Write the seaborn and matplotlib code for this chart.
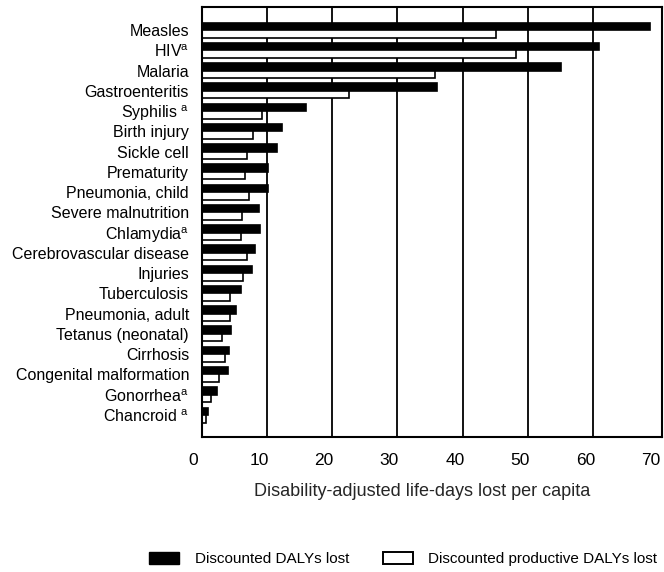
import pandas as pd
import seaborn as sns
import matplotlib.pyplot as plt
import matplotlib.transforms as mtransforms
from matplotlib.patches import Patch

# disability-adjusted life-days lost per capita

causes = ['Measles', 'HIV$^{a}$', 'Malaria', 'Gastroenteritis', 'Syphilis $^{a}$',
          'Birth injury', 'Sickle cell', 'Prematurity', 'Pneumonia, child',
          'Severe malnutrition', 'Chlamydia$^{a}$', 'Cerebrovascular disease',
          'Injuries', 'Tuberculosis', 'Pneumonia, adult', 'Tetanus (neonatal)',
          'Cirrhosis', 'Congenital malformation', 'Gonorrhea$^{a}$', 'Chancroid $^{a}$']

dalys = [68.7, 60.8, 55.0, 36.0, 16.0, 12.3, 11.5, 10.2, 10.2,
         8.8, 8.9, 8.2, 7.7, 6.0, 5.3, 4.5, 4.2, 4.0, 2.3, 1.0]
productive = [45.1, 48.2, 35.7, 22.6, 9.2, 7.9, 6.9, 6.7, 7.3,
              6.2, 6.0, 7.0, 6.4, 4.4, 4.4, 3.1, 3.6, 2.7, 1.4, 0.7]

series_names = ['Discounted DALYs lost', 'Discounted productive DALYs lost']

df = pd.DataFrame({
    'cause': causes * 2,
    'value': dalys + productive,
    'series': [series_names[0]] * len(causes) + [series_names[1]] * len(causes),
})

sns.set_style('white')
plt.rcParams['font.family'] = ['Liberation Sans', 'DejaVu Sans']
plt.rcParams['mathtext.default'] = 'regular'
plt.rcParams['text.color'] = 'black'
plt.rcParams['xtick.color'] = 'black'
plt.rcParams['ytick.color'] = 'black'

fig = plt.figure(figsize=(6.64, 5.72), dpi=100)
ax = fig.add_axes([0.3035, 0.2355, 0.6935, 0.7517])

sns.barplot(data=df, x='value', y='cause', hue='series', order=causes,
            palette=['black', 'white'], edgecolor='black', linewidth=1.2,
            width=0.74, ax=ax, legend=False)

ax.set_xlim(0, 70.5)
ax.set_ylim(len(causes) - 1 + 1.1, -1.12)
ax.set_xticks(range(0, 80, 10))
for xv in range(10, 70, 10):
    ax.axvline(xv, color='black', lw=1.3, zorder=0)
for s in ax.spines.values():
    s.set_color('black')
    s.set_linewidth(1.5)

ax.tick_params(axis='y', length=0, pad=9, labelsize=11.5)
ax.tick_params(axis='x', length=0, pad=11, labelsize=12.5)
# the printed tick numbers sit a little left of the grid lines
shift = mtransforms.ScaledTranslation(-8 / 100, 0, fig.dpi_scale_trans)
for lbl in ax.get_xticklabels():
    lbl.set_transform(lbl.get_transform() + shift)

ax.set_ylabel('')
ax.set_xlabel('Disability-adjusted life-days lost per capita', fontsize=13)
ax.xaxis.set_label_coords(0.479, -0.107)

handles = [Patch(facecolor='black', edgecolor='black'),
           Patch(facecolor='white', edgecolor='black', linewidth=1.4)]
fig.legend(handles, series_names, loc='center', bbox_to_anchor=(0.607, 0.022),
           ncol=2, frameon=False, fontsize=11, handlelength=2.0, handleheight=0.8,
           columnspacing=2.2, handletextpad=1.0)

fig.savefig('out.png', dpi=100)
